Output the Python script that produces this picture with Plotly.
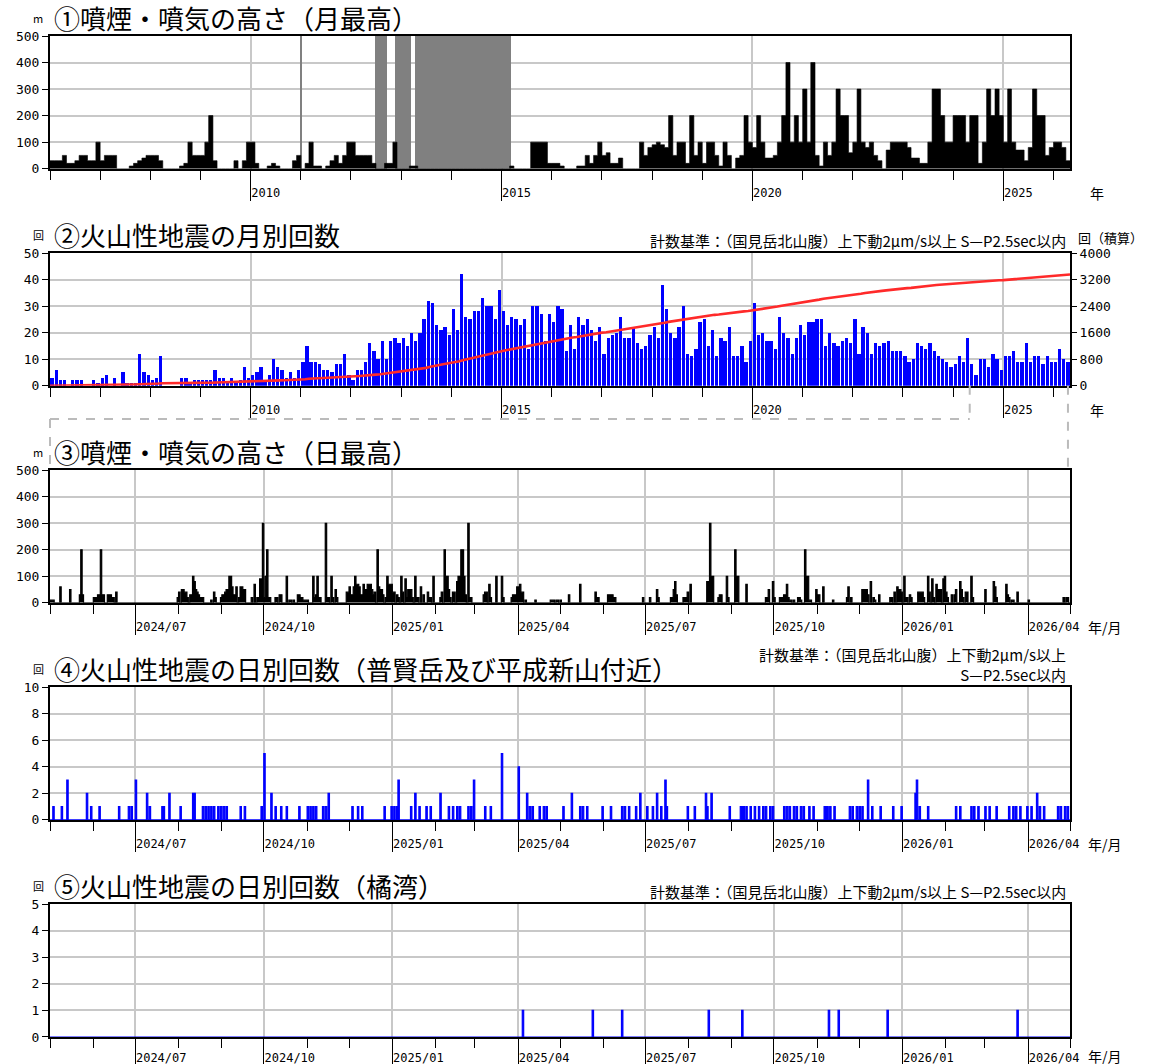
import numpy as np
import pandas as pd
import plotly.graph_objects as go

# ---------------- data ----------------
MONTH_FIRST = "2006-01-01"      # first month shown in panels 1-2
LONG_END = "2026-05-01"         # right edge of panels 1-2
YEAR_TICK0 = "2010-01-01"

# (1) monthly maximum plume height (m), Jan 2006 .. Apr 2026
PLUME_MONTHLY_MAX = [
    30, 30, 30, 50, 20, 20, 30, 50, 50, 30, 30, 100,      # 2006
    30, 50, 50, 50, 0, 0, 0, 10, 20, 30, 40, 50,          # 2007
    50, 50, 30, 0, 0, 0, 0, 10, 20, 100, 50, 50,          # 2008
    50, 100, 200, 30, 0, 0, 0, 0, 30, 0, 30, 100,         # 2009
    100, 20, 0, 0, 10, 20, 10, 0, 0, 0, 30, 50,           # 2010
    0, 20, 100, 10, 10, 0, 10, 30, 50, 20, 50, 100,       # 2011
    100, 50, 50, 50, 50, 20, 0, 0, 20, 20, 100, 0,        # 2012
    0, 0, 10, 10, 0, 0, 0, 0, 0, 0, 0, 0,                 # 2013
    0, 0, 0, 0, 0, 0, 0, 0, 0, 0, 0, 0,                   # 2014
    0, 0, 10, 0, 0, 0, 0, 100, 100, 100, 100, 20,         # 2015
    20, 20, 10, 0, 0, 0, 10, 10, 50, 20, 50, 100,         # 2016
    50, 60, 20, 20, 40, 0, 0, 0, 0, 100, 50, 80,          # 2017
    90, 100, 90, 80, 200, 50, 100, 100, 20, 200, 50, 100, # 2018
    20, 100, 100, 50, 10, 100, 50, 0, 40, 50, 200, 100,   # 2019
    80, 200, 100, 40, 40, 50, 100, 200, 400, 100, 200, 100,  # 2020
    300, 100, 400, 50, 10, 100, 50, 100, 300, 200, 200, 60,  # 2021
    100, 300, 100, 80, 100, 50, 30, 0, 70, 100, 100, 100,    # 2022
    100, 80, 40, 40, 20, 20, 100, 300, 300, 200, 100, 100,   # 2023
    200, 200, 200, 100, 200, 200, 20, 100, 300, 200, 300, 200,  # 2024
    100, 300, 100, 70, 70, 30, 80, 300, 200, 200, 50, 80,    # 2025
    100, 100, 80, 30,                                        # 2026
]
# periods without observation (grey)
GAP_START = ["2010-12-29", "2012-06-26", "2012-11-20", "2013-04-12"]
GAP_END = ["2011-01-09", "2012-09-17", "2013-03-13", "2015-03-13"]

# (2) monthly number of volcanic earthquakes, Jan 2006 .. Apr 2026
EQ_MONTHLY = [
    3, 6, 2, 2, 0, 2, 2, 2, 0, 0, 2, 1,
    3, 4, 0, 3, 0, 5, 1, 1, 1, 12, 5, 4,
    2, 3, 11, 0, 0, 0, 0, 3, 3, 1, 2, 2,
    2, 2, 2, 6, 3, 3, 1, 3, 1, 2, 7, 3,
    4, 5, 7, 2, 4, 10, 7, 6, 3, 5, 3, 6,
    9, 15, 9, 9, 8, 6, 6, 5, 8, 8, 12, 4,
    2, 6, 6, 9, 16, 13, 10, 17, 10, 17, 18, 16,
    18, 15, 20, 17, 20, 25, 32, 31, 23, 21, 22, 19,
    29, 21, 42, 26, 25, 28, 28, 33, 30, 30, 25, 36,
    28, 23, 26, 25, 23, 25, 14, 30, 30, 27, 17, 27,
    24, 30, 29, 13, 23, 14, 26, 23, 25, 21, 17, 22,
    12, 18, 19, 20, 26, 18, 18, 22, 16, 14, 15, 19,
    22, 18, 38, 29, 20, 18, 22, 30, 12, 11, 14, 24,
    25, 15, 21, 11, 18, 17, 22, 11, 11, 15, 9, 17,
    31, 19, 20, 17, 17, 14, 26, 20, 18, 12, 18, 23,
    19, 24, 24, 25, 25, 15, 20, 16, 15, 17, 18, 16,
    25, 12, 22, 20, 12, 16, 15, 16, 17, 13, 13, 13,
    11, 9, 10, 16, 15, 14, 16, 13, 11, 10, 9, 7,
    8, 11, 9, 18, 8, 4, 10, 10, 7, 12, 10, 6,
    11, 11, 13, 9, 9, 16, 9, 11, 11, 8, 11, 9,
    9, 14, 10, 9,
]

DAY_FIRST = "2024-05-01"        # first day of panels 3-5 (also the zoom start in panel 2)
DAY_END = "2026-05-01"

# (3) daily maximum plume height: day number counted from DAY_FIRST, height (m)
PLUME_DAY = [
    0, 1, 2, 7, 14, 21, 22, 23, 31, 32, 33, 34, 35, 36, 37, 38, 41, 42, 43, 44, 45, 47,
    91, 92, 94, 95, 96, 97, 98, 100, 101, 102, 103, 104, 105, 106, 107, 108, 109,
    115, 117, 118, 122, 123, 124, 125, 126, 127, 128, 129, 130, 131, 132, 133, 135, 136, 137, 138, 139,
    144, 146, 148, 149, 150, 151, 152, 153, 154, 155, 156, 157, 161, 162, 164, 165, 169, 171, 172, 174,
    177, 178, 179, 180, 181, 182, 183, 184, 188, 189, 190, 191, 192, 193, 197, 198, 199, 201, 202, 204, 205,
    212, 213, 214, 215, 216, 217, 218, 219, 220, 221, 222, 223, 224, 225, 226, 227, 228, 229, 230, 231, 232,
    234, 235, 236, 237, 238, 240, 241, 242, 243, 244, 245, 246, 248, 249, 251, 252, 254, 255, 256, 257, 258,
    259, 261, 262, 263, 265, 267, 270, 271, 272, 274, 279, 280, 282, 283, 284, 285, 286, 288, 289, 291, 292,
    293, 294, 295, 296, 297, 299, 300, 301,
    310, 311, 312, 314, 315, 319, 323, 324, 330, 331, 332, 333, 334, 335, 336, 337, 338, 340, 347,
    358, 359, 360, 362, 363, 365, 371, 379, 390, 391, 392, 399, 400, 401, 402, 403, 404,
    424, 429, 434, 435, 444, 445, 446, 447, 448, 453, 454, 455, 456, 458, 470, 471, 472, 473, 474, 478, 479,
    480, 484, 485, 490, 491, 492, 498,
    512, 513, 514, 517, 518, 522, 523, 524, 525, 526, 527, 528, 529, 530, 532, 535, 536, 537, 540, 541, 542,
    543, 544, 548, 549, 550, 553, 560, 570, 571, 573, 581, 582, 583, 584, 585, 587, 589, 590, 593,
    601, 602, 604, 606, 607, 608, 609, 611, 612, 613, 615, 616, 621, 622, 623, 624, 625, 628, 629, 631, 632,
    634, 635, 636, 637, 639, 640, 641, 642, 645, 647, 648, 651, 652, 653, 655, 656, 659, 660, 669, 675, 676,
    677, 684, 685, 686, 688, 689, 692, 700, 725, 727, 728,
]
PLUME_DAY_M = [
    10, 10, 10, 60, 50, 30, 200, 30, 20, 20, 20, 30, 30, 200, 30, 30, 30, 30, 30, 20, 20, 40,
    20, 40, 50, 50, 40, 40, 20, 30, 30, 100, 80, 50, 40, 30, 20, 20, 20,
    10, 40, 20, 20, 30, 30, 40, 50, 50, 100, 100, 60, 30, 30, 60, 20, 60, 60, 50, 50,
    20, 70, 20, 20, 90, 90, 300, 20, 100, 200, 20, 20, 20, 20, 30, 30, 100, 10, 10, 10,
    30, 30, 20, 20, 10, 10, 10, 10, 100, 20, 30, 100, 20, 20, 300, 20, 20, 100, 20, 50, 20,
    40, 40, 60, 30, 30, 60, 100, 70, 70, 60, 30, 30, 70, 50, 50, 70, 70, 70, 50, 30, 40,
    200, 60, 50, 50, 30, 20, 100, 70, 70, 70, 40, 40, 30, 20, 100, 40, 90, 20, 50, 50, 50,
    20, 100, 20, 20, 60, 30, 40, 20, 20, 100, 20, 40, 200, 100, 100, 50, 20, 40, 40, 80, 100,
    100, 200, 200, 100, 30, 300, 20, 20,
    30, 40, 40, 70, 20, 100, 100, 20, 20, 30, 30, 30, 60, 60, 70, 40, 40, 10, 10,
    10, 10, 10, 10, 10, 10, 30, 70, 40, 20, 20, 30, 30, 30, 30, 20, 20,
    20, 20, 50, 20, 20, 20, 50, 80, 30, 20, 20, 20, 40, 70, 80, 80, 300, 100, 100, 20, 30,
    30, 100, 20, 200, 100, 100, 70,
    20, 20, 50, 80, 20, 20, 20, 20, 30, 30, 70, 20, 10, 10, 10, 20, 20, 10, 200, 100, 100,
    10, 10, 50, 30, 30, 60, 10, 20, 60, 20, 50, 50, 50, 50, 30, 80, 20, 10, 30,
    20, 20, 40, 60, 50, 50, 40, 100, 20, 20, 30, 20, 40, 40, 40, 40, 20, 100, 40, 90, 20,
    70, 50, 50, 50, 90, 100, 40, 20, 30, 30, 50, 80, 50, 20, 40, 40, 100, 20, 50, 80, 60,
    20, 70, 30, 20, 10, 10, 40, 10, 20, 20, 20,
]

# (4) daily number of volcanic earthquakes (Fugendake / Heisei-Shinzan)
EQ_FUGEN_DAY = [
    2, 8, 12, 26, 29, 35, 49, 56, 58, 61, 69, 71, 80, 81, 85, 93, 102, 103, 109, 111, 113, 115, 117,
    120, 122, 124, 126, 136, 139, 151, 153, 158, 161, 165, 169, 178, 184, 186, 188, 190, 195, 197, 199,
    216, 220, 223, 239, 244, 246, 248, 249, 258, 261, 264, 269, 272, 279, 285, 288, 291, 293, 299, 301,
    303, 311, 315, 323, 335, 341, 343, 345, 350, 353, 355,
    367, 373, 379, 381, 384, 395, 401, 409, 411, 414, 419, 422, 427, 431, 434, 437, 440, 441, 456, 461,
    469, 470, 473, 486, 494, 495, 496, 498, 501, 504, 507, 510, 512, 515, 517, 525, 527, 529, 532, 534,
    537, 539, 543, 546, 554, 555, 556, 558, 561, 572, 574, 577, 579, 581, 585, 588, 594, 603, 609, 619,
    620, 622, 628, 648, 651, 659, 661, 664, 669, 672, 677, 686, 689, 691, 694, 699, 702, 706, 708, 711,
    721, 723, 726, 728,
]
EQ_FUGEN_N = [
    1, 1, 3, 2, 1, 1, 1, 1, 1, 3, 2, 1, 1, 1, 2, 1, 2, 2, 1, 1, 1, 1, 1,
    1, 1, 1, 1, 1, 1, 1, 5, 2, 1, 1, 1, 1, 1, 1, 1, 1, 1, 1, 2,
    1, 1, 1, 1, 1, 1, 1, 3, 1, 2, 1, 1, 1, 2, 1, 1, 1, 1, 1, 1,
    3, 1, 1, 5, 4, 2, 1, 1, 1, 1, 1,
    1, 2, 1, 1, 1, 1, 1, 1, 1, 1, 1, 2, 1, 1, 2, 1, 3, 1, 1, 1,
    2, 1, 2, 1, 1, 1, 1, 1, 1, 1, 1, 1, 1, 1, 1, 1, 1, 1, 1, 1,
    1, 1, 1, 1, 1, 1, 1, 1, 1, 1, 1, 1, 1, 1, 3, 1, 1, 1, 1, 2,
    3, 1, 1, 1, 1, 1, 1, 1, 1, 1, 1, 1, 1, 1, 1, 1, 1, 2, 1, 1,
    1, 1, 1, 1,
]

# (5) daily number of volcanic earthquakes (Tachibana Bay)
EQ_TACHI_DAY = [338, 388, 409, 471, 495, 557, 564, 599, 692]
EQ_TACHI_N = [1, 1, 1, 1, 1, 1, 1, 1, 1]

# ---------------- layout helpers ----------------
# The figure is made a little taller than the window; vertical positions use a
# small stretch factor KY so the visible part lines up with the target layout.
W, H = 1150, 1080
KY = 1.005
PLOT_LEFT, PLOT_RIGHT, PLOT_TOP, PLOT_BOTTOM = 50, 1070, 36, 1032   # target picture pixels
ML, MR = PLOT_LEFT, W - PLOT_RIGHT
MT, MB = PLOT_TOP * KY, H - PLOT_BOTTOM * KY
PANEL_TOPS = [36, 252, 468, 684, 900]   # target picture pixels
PANEL_H = 132


def py(px):
    return 1 - (px - PLOT_TOP) / (PLOT_BOTTOM - PLOT_TOP)


DOM = [[py(t + PANEL_H), py(t)] for t in PANEL_TOPS]
FONT_NUM = "DejaVu Sans Mono"
FONT_JP = "Noto Sans CJK JP"
GRID = "#c8c8c8"
BLUE = "#0000ff"

months = pd.date_range(MONTH_FIRST, periods=len(PLUME_MONTHLY_MAX), freq="MS")
month_edges = months.append(pd.DatetimeIndex([pd.Timestamp(LONG_END)]))
month_mid = month_edges[:-1] + (month_edges[1:] - month_edges[:-1]) / 2

days = pd.date_range(DAY_FIRST, DAY_END, freq="D")  # includes end boundary


def dense(day_idx, vals):
    arr = np.zeros(len(days))
    arr[np.array(day_idx)] = vals
    return arr


fig = go.Figure()

# panel 1
fig.add_trace(go.Scatter(
    x=month_edges, y=PLUME_MONTHLY_MAX + [PLUME_MONTHLY_MAX[-1]], mode="lines",
    line=dict(shape="hv", width=0.6, color="black"), fill="tozeroy", fillcolor="black",
    xaxis="x", yaxis="y", hoverinfo="skip", showlegend=False))
gs = pd.to_datetime(GAP_START)
ge = pd.to_datetime(GAP_END)
fig.add_trace(go.Bar(
    x=gs + (ge - gs) / 2, y=[500] * len(gs),
    width=[(e - s).total_seconds() * 1000 for s, e in zip(gs, ge)],
    marker=dict(color="#808080", line=dict(width=0)),
    xaxis="x", yaxis="y", hoverinfo="skip", showlegend=False))

# panel 2
fig.add_trace(go.Bar(
    x=month_mid, y=EQ_MONTHLY, width=24 * 86400000,
    marker=dict(color=BLUE, line=dict(width=0)),
    xaxis="x2", yaxis="y2", hoverinfo="skip", showlegend=False))
cum = np.concatenate([[0], np.cumsum(EQ_MONTHLY)])
fig.add_trace(go.Scatter(
    x=month_edges, y=cum, mode="lines", line=dict(color="#ff2a2a", width=2.6),
    xaxis="x2", yaxis="y6", hoverinfo="skip", showlegend=False))

# panels 3-5
for vals_day, vals, color, ax, ay in [
    (PLUME_DAY, PLUME_DAY_M, "black", "x3", "y3"),
    (EQ_FUGEN_DAY, EQ_FUGEN_N, BLUE, "x4", "y4"),
    (EQ_TACHI_DAY, EQ_TACHI_N, BLUE, "x5", "y5"),
]:
    fig.add_trace(go.Scatter(
        x=days, y=dense(vals_day, vals), mode="lines",
        line=dict(shape="hv", width=1.2, color=color), fill="tozeroy", fillcolor=color,
        xaxis=ax, yaxis=ay, hoverinfo="skip", showlegend=False))


def xaxis(rng, tick0, dtick, mdtick, fmt, shift, anchor, layer="above traces", standoff=-18):
    return dict(
        type="date", range=rng, domain=[0, 1], anchor=anchor,
        tick0=tick0, dtick=dtick, tickformat=fmt,
        ticks="outside", ticklen=30, tickwidth=1.3, tickcolor="black",
        ticklabelshift=shift, ticklabelstandoff=standoff,
        tickfont=dict(family=FONT_NUM, size=12, color="black"),
        showgrid=True, gridcolor=GRID, gridwidth=1.5,
        showline=True, mirror=True, linecolor="black", linewidth=2,
        minor=dict(dtick=mdtick, ticks="outside", ticklen=9, tickwidth=1.3,
                   tickcolor="black", showgrid=False),
        zeroline=False, layer=layer)


def yaxis(rng, dtick, dom, anchor):
    return dict(
        range=rng, dtick=dtick, tick0=0, domain=dom, anchor=anchor,
        ticks="outside", ticklen=6, tickwidth=1.3, tickcolor="black",
        tickfont=dict(family=FONT_NUM, size=13, color="black"),
        showgrid=True, gridcolor=GRID, gridwidth=1.5,
        showline=True, mirror=True, linecolor="black", linewidth=2, zeroline=False)


long_rng = [MONTH_FIRST, LONG_END]
day_rng = [DAY_FIRST, DAY_END]
fig.update_layout(
    width=W, height=H, margin=dict(l=ML, r=MR, t=MT, b=MB),
    paper_bgcolor="white", plot_bgcolor="white", showlegend=False, bargap=0,
    xaxis=xaxis(long_rng, YEAR_TICK0, "M60", "M12", "%Y", 15, "y"),
    xaxis2=xaxis(long_rng, YEAR_TICK0, "M60", "M12", "%Y", 15, "y2"),
    xaxis3=xaxis(day_rng, "2024-07-01", "M3", "M1", "%Y/%m", 26, "y3"),
    xaxis4=xaxis(day_rng, "2024-07-01", "M3", "M1", "%Y/%m", 26, "y4", "below traces"),
    xaxis5=xaxis(day_rng, "2024-07-01", "M3", "M1", "%Y/%m", 26, "y5", "below traces", -21),
    yaxis=yaxis([0, 500], 100, DOM[0], "x"),
    yaxis2=yaxis([0, 50], 10, DOM[1], "x2"),
    yaxis3=yaxis([0, 500], 100, DOM[2], "x3"),
    yaxis4=yaxis([0, 10], 2, DOM[3], "x4"),
    yaxis5=yaxis([0, 5], 1, DOM[4], "x5"),
    yaxis6=dict(range=[0, 4000], dtick=800, tick0=0, overlaying="y2", side="right",
                anchor="x2", ticks="outside", ticklen=6, tickwidth=1.3, tickcolor="black",
                tickfont=dict(family=FONT_NUM, size=13, color="black"),
                showgrid=False, showline=False, zeroline=False),
)

TITLES = [
    "①噴煙・噴気の高さ（月最高）",
    "②火山性地震の月別回数",
    "③噴煙・噴気の高さ（日最高）",
    "④火山性地震の日別回数（普賢岳及び平成新山付近）",
    "⑤火山性地震の日別回数（橘湾）",
]
UNITS = ["m", "回", "m", "回", "回"]
XUNITS = ["年", "年", "年/月", "年/月", "年/月"]
CRIT = "計数基準：（国見岳北山腹）上下動2μm/s以上 S—P2.5sec以内"
CRIT2 = "計数基準：（国見岳北山腹）上下動2μm/s以上<br>S—P2.5sec以内"

ann = []
for i in range(5):
    top, bot = DOM[i][1], DOM[i][0]
    ann.append(dict(text=TITLES[i], x=0, xref="paper", xanchor="left", xshift=2,
                    y=top, yref="paper", yanchor="bottom", yshift=-2, showarrow=False,
                    font=dict(family=FONT_JP, size=26, color="black")))
    ann.append(dict(text=UNITS[i], x=0, xref="paper", xanchor="center", xshift=-12,
                    y=top, yref="paper", yanchor="middle", yshift=18, showarrow=False,
                    font=dict(family=FONT_JP, size=11, color="black")))
    ann.append(dict(text=XUNITS[i], x=1, xref="paper", xanchor="center",
                    xshift=27 if i < 2 else 35,
                    y=bot, yref="paper", yanchor="middle", yshift=-24 if i < 4 else -19,
                    showarrow=False, font=dict(family=FONT_JP, size=14, color="black")))
for i, txt in [(1, CRIT), (3, CRIT2), (4, CRIT)]:
    ann.append(dict(text=txt, x=1, xref="paper", xanchor="right", xshift=-2,
                    y=DOM[i][1], yref="paper", yanchor="bottom", yshift=0,
                    showarrow=False, align="right",
                    font=dict(family=FONT_JP, size=15, color="black")))
ann.append(dict(text="回（積算）", x=1, xref="paper", xanchor="left", xshift=6,
                y=DOM[1][1], yref="paper", yanchor="bottom", yshift=4, showarrow=False,
                font=dict(family=FONT_JP, size=13, color="black")))
fig.update_layout(annotations=ann)

# dashed bracket linking the zoom period in panel 2 to panels 3-5
yb = py(417)
dash = dict(color="#bbbbbb", width=2, dash="dash")
fig.update_layout(shapes=[
    dict(type="line", xref="x2", yref="paper", x0=MONTH_FIRST, x1=DAY_FIRST, y0=yb, y1=yb, line=dash),
    dict(type="line", xref="x2", yref="paper", x0=DAY_FIRST, x1=DAY_FIRST, y0=DOM[1][0], y1=yb, line=dash),
    dict(type="line", xref="paper", yref="paper", x0=0, x1=0, y0=yb, y1=DOM[2][1], line=dash),
    dict(type="line", xref="paper", yref="paper", x0=0.998, x1=0.998, y0=DOM[1][0], y1=DOM[2][1], line=dash),
])

# remove the default 8px body margin so the figure starts at the window corner
fig.write_html("out.html", config={"displayModeBar": False},
               post_script="document.body.style.margin='0px';")
